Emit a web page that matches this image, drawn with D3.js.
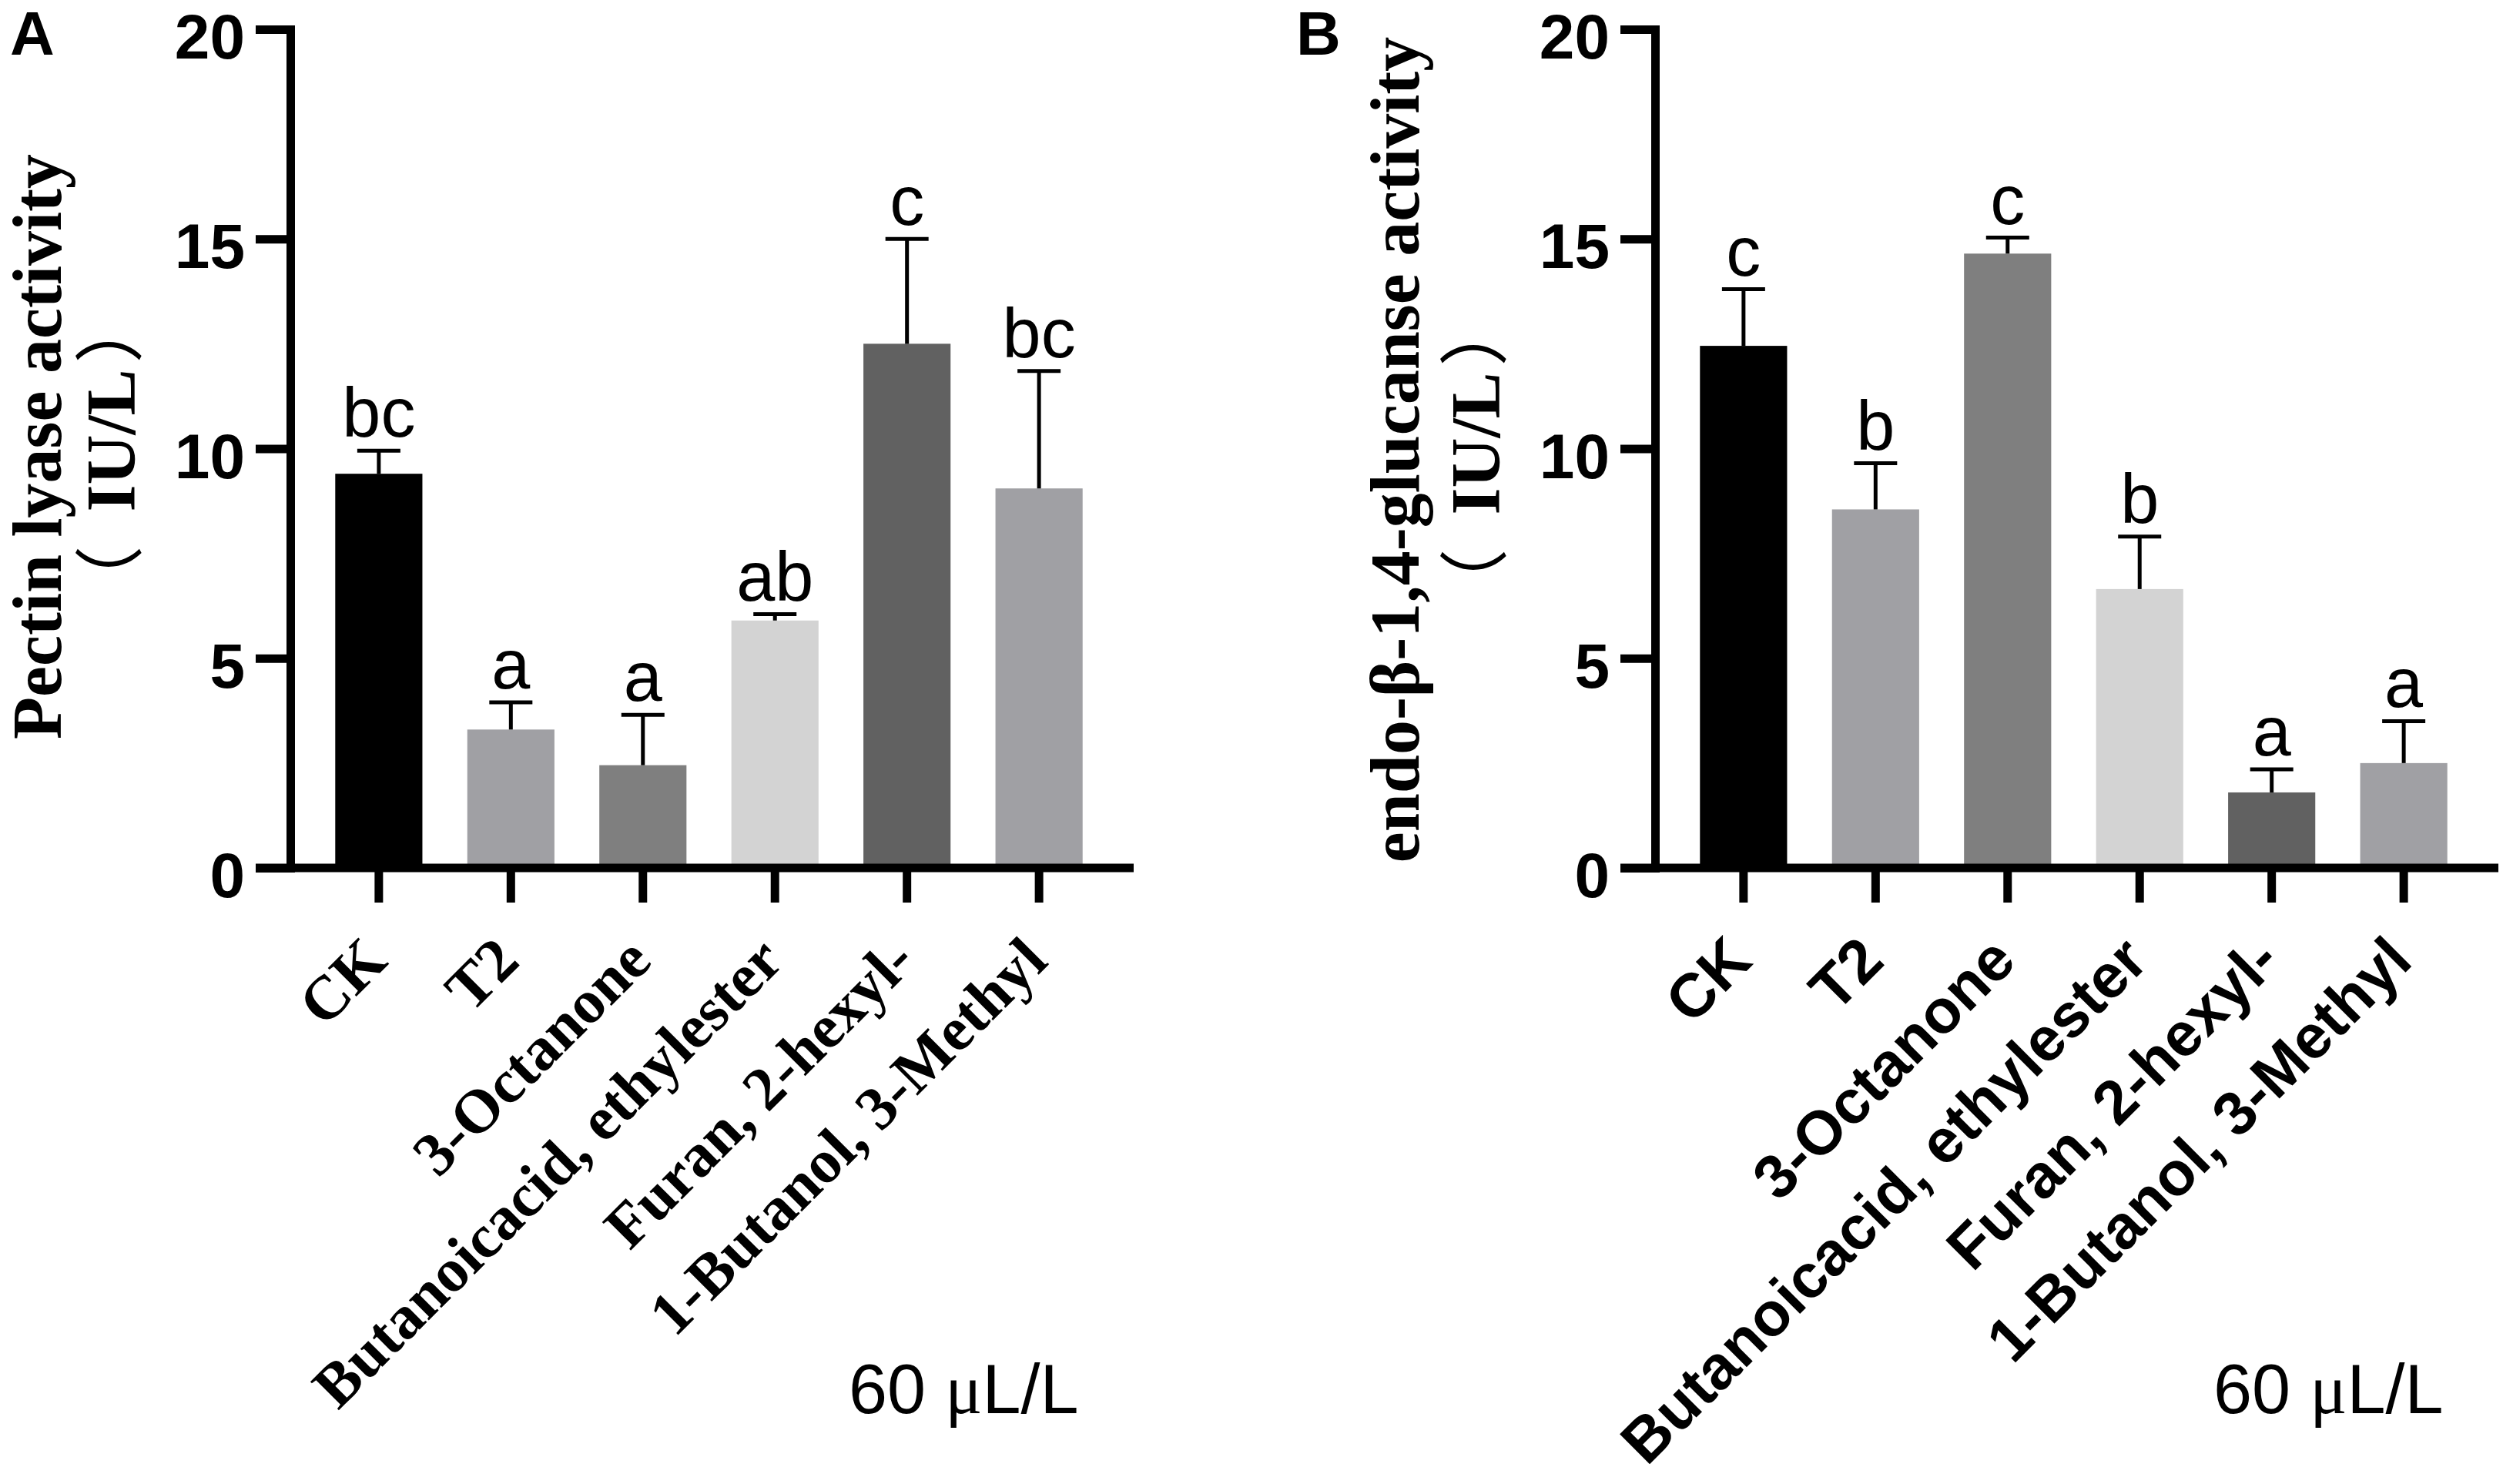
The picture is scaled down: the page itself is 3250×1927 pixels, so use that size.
<!DOCTYPE html>
<html>
<head>
<meta charset="utf-8">
<script src="https://cdn.jsdelivr.net/npm/d3@7"></script>
<style>
body { margin: 0; background: #fff; }
</style>
</head>
<body>
<div id="chart"></div>
<script>
let categories = ["CK", "T2", "3-Octanone", "Butanoicacid, ethylester", "Furan, 2-hexyl-", "1-Butanol, 3-Methyl"];
let yTicks = [0, 5, 10, 15, 20];

// panel A: pectin lyase
let pectinMean = [9.4, 3.3, 2.45, 5.9, 12.5, 9.05];
let pectinSD = [0.55, 0.65, 1.2, 0.15, 2.5, 2.8];
let pectinLetters = ["bc", "a", "a", "ab", "c", "bc"];

// panel B: endo-glucanase
let glucMean = [12.45, 8.55, 14.65, 6.65, 1.8, 2.5];
let glucSD = [1.35, 1.1, 0.38, 1.25, 0.55, 1.0];
let glucLetters = ["c", "b", "c", "b", "a", "a"];

let barColors = ["#000000", "#a0a0a4", "#7f7f7f", "#d3d3d3", "#616161", "#a0a0a4"];

let w = 3250, h = 1927;
let sans = "'Liberation Sans', Arial, sans-serif";
let serif = "'Liberation Serif', 'Times New Roman', serif";
let cjk = "'Noto Sans CJK SC', sans-serif";

let svg = d3.select("#chart")
    .append("svg")
    .attr("width", w)
    .attr("height", h);

let yScale = d3.scaleLinear()
    .domain([0, 20])
    .range([1127, 38]);

function drawPanel(p) {
    let g = svg.append("g");
    let xScale = d3.scaleBand()
        .domain(categories)
        .range([p.x0, p.x0 + 1087])
        .padding(0.34);
    let bw = xScale.bandwidth();
    let cx = (i) => xScale(categories[i]) + bw / 2;

    g.selectAll("rect.bar")
        .data(p.means)
        .enter()
        .append("rect")
        .attr("class", "bar")
        .attr("x", (d, i) => xScale(categories[i]))
        .attr("width", bw)
        .attr("y", (d) => yScale(d))
        .attr("height", (d) => yScale(0) - yScale(d))
        .attr("fill", (d, i) => barColors[i]);

    // error bars (upper only)
    g.selectAll("line.err")
        .data(p.means)
        .enter()
        .append("line")
        .attr("x1", (d, i) => cx(i))
        .attr("x2", (d, i) => cx(i))
        .attr("y1", (d) => yScale(d))
        .attr("y2", (d, i) => yScale(d + p.sd[i]))
        .attr("stroke", "#000")
        .attr("stroke-width", 5);
    g.selectAll("line.cap")
        .data(p.means)
        .enter()
        .append("line")
        .attr("x1", (d, i) => cx(i) - 28)
        .attr("x2", (d, i) => cx(i) + 28)
        .attr("y1", (d, i) => yScale(d + p.sd[i]))
        .attr("y2", (d, i) => yScale(d + p.sd[i]))
        .attr("stroke", "#000")
        .attr("stroke-width", 5);

    g.selectAll("text.sig")
        .data(p.letters)
        .enter()
        .append("text")
        .attr("x", (d, i) => cx(i))
        .attr("y", (d, i) => yScale(p.means[i] + p.sd[i]) - 18)
        .attr("text-anchor", "middle")
        .attr("font-family", sans)
        .attr("font-size", 90)
        .text((d) => d);

    // y axis
    let yAxis = g.append("g")
        .attr("transform", "translate(" + p.x0 + ",0)")
        .call(d3.axisLeft(yScale).tickValues(yTicks).tickSize(45).tickSizeOuter(0).tickPadding(14));
    yAxis.select(".domain")
        .attr("stroke-width", 11)
        .attr("stroke-linecap", "square");
    yAxis.selectAll(".tick line").attr("stroke-width", 11);
    yAxis.selectAll(".tick text")
        .attr("font-family", sans)
        .attr("font-weight", "bold")
        .attr("font-size", 82)
        .attr("dy", "0.46em");

    // x axis
    let xAxis = g.append("g")
        .attr("transform", "translate(0," + yScale(0) + ")")
        .call(d3.axisBottom(xScale).tickSize(45).tickSizeOuter(0));
    xAxis.select(".domain").remove();
    xAxis.append("line")
        .attr("x1", p.x0 - 45)
        .attr("x2", p.x0 + 1095)
        .attr("stroke", "#000")
        .attr("stroke-width", 11);
    xAxis.selectAll(".tick line").attr("stroke-width", 11);
    xAxis.selectAll(".tick text")
        .attr("x", 0)
        .attr("y", 0)
        .attr("dy", "0")
        .attr("text-anchor", "end")
        .attr("transform", "translate(14,124) rotate(-45)")
        .attr("font-family", p.tickFont)
        .attr("font-weight", "bold")
        .attr("font-size", 80);

    // y label, two lines
    g.append("text")
        .attr("transform", "translate(" + p.labelX + "," + p.labelY + ") rotate(-90)")
        .attr("text-anchor", "middle")
        .attr("font-family", serif)
        .attr("font-weight", "bold")
        .attr("font-size", 90)
        .text(p.yLabel);
    let unit = g.append("text")
        .attr("transform", "translate(" + (p.x0 - 202) + "," + (p.labelY + 10) + ") rotate(-90)")
        .attr("text-anchor", "middle")
        .attr("font-size", 90);
    unit.append("tspan").attr("font-family", cjk).attr("font-weight", "normal").text("（");
    unit.append("tspan").attr("dx", 44).attr("font-family", serif).attr("font-weight", "bold").text("IU/L");
    unit.append("tspan").attr("dx", 8).attr("font-family", cjk).attr("font-weight", "normal").text("）");

    // concentration note
    let note = g.append("text")
        .attr("x", p.x0 + 725)
        .attr("y", 1835)
        .attr("font-family", sans)
        .attr("font-size", 90);
    note.append("tspan").text("60 ");
    note.append("tspan").attr("font-family", serif).text("μ");
    note.append("tspan").text("L/L");

    // panel letter
    g.append("text")
        .attr("x", p.letterX)
        .attr("y", 71)
        .attr("font-family", sans)
        .attr("font-weight", "bold")
        .attr("font-size", 80)
        .text(p.panel);
}

drawPanel({
    x0: 377, panel: "A", letterX: 13, labelX: 79, labelY: 580,
    means: pectinMean, sd: pectinSD, letters: pectinLetters,
    yLabel: "Pectin lyase activity", tickFont: serif
});
drawPanel({
    x0: 2149, panel: "B", letterX: 1683, labelX: 1842, labelY: 584,
    means: glucMean, sd: glucSD, letters: glucLetters,
    yLabel: "endo-β-1,4-glucanse activity", tickFont: sans
});
</script>
</body>
</html>
